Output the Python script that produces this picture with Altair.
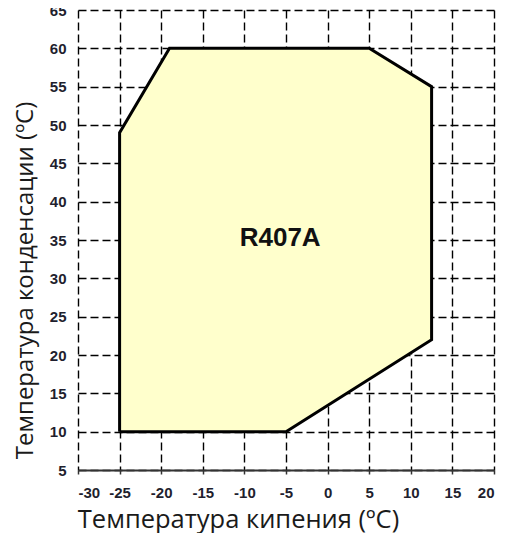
import altair as alt
import pandas as pd

# Envelope polygon (evaporating temp, condensing temp), closed
boil_temp = [-25, -25, -19, 5, 12.5, 12.5, -5, -25]
cond_temp = [10, 49, 60, 60, 55, 22, 10, 10]
point_order = list(range(len(boil_temp)))

x_ticks = list(range(-30, 21, 5))
y_ticks = list(range(5, 66, 5))

label_text = ["R407A"]
label_x = [-5.7]
label_y = [35.3]

df = pd.DataFrame({"x": boil_temp, "y": cond_temp, "o": point_order})
lab = pd.DataFrame({"x": label_x, "y": label_y, "t": label_text})

xscale = alt.Scale(domain=[-30, 20], nice=False, zero=False)
yscale = alt.Scale(domain=[5, 65], nice=False, zero=False)

label_color = "#1f1f2e"

xaxis = alt.Axis(
    values=x_ticks, title="Температура кипения (ºC)",
    labelExpr="datum.value + ''", labelOverlap=False,
    grid=True, gridColor="black", gridDash=[8, 4], gridWidth=1.4, gridOpacity=1,
    domain=True, domainColor="#333", domainWidth=2,
    ticks=True, tickColor="#333", tickSize=4, tickWidth=1.5,
    labelFont="Liberation Sans", labelFontSize=15, labelFontWeight="bold",
    labelColor=label_color, labelPadding=11,
    titleFont="Open Sans", titleFontSize=25.5, titleFontWeight="normal",
    titleColor="#1a1a1a", titleX=160, titleY=57, titleBaseline="alphabetic",
)
yaxis = alt.Axis(
    values=y_ticks, title="Температура конденсации  (ºC)",
    labelExpr="datum.value + ''", labelOverlap=False,
    grid=True, gridColor="black", gridDash=[8, 4], gridWidth=1.4, gridOpacity=1,
    domain=False, ticks=False,
    labelFont="Liberation Sans", labelFontSize=15, labelFontWeight="bold",
    labelColor=label_color, labelPadding=12,
    titleFont="Open Sans", titleFontSize=24, titleFontWeight="normal",
    titleColor="#1a1a1a", titleX=-46, titleY=270, titleBaseline="alphabetic",
)

x_enc = alt.X("x:Q", scale=xscale, axis=xaxis)
y_enc = alt.Y("y:Q", scale=yscale, axis=yaxis)

poly = alt.Chart(df).mark_line(
    fill="#FFFFCC", stroke="black", strokeWidth=3, strokeJoin="miter"
).encode(x=x_enc, y=y_enc, order=alt.Order("o:O"))

text = alt.Chart(lab).mark_text(
    font="Liberation Sans", fontSize=26, fontWeight="bold", color="#111"
).encode(x=x_enc, y=y_enc, text="t:N")

chart = alt.layer(poly, text).properties(
    width=416, height=460,
    autosize=alt.AutoSizeParams(type="none"),
    padding={"left": 70, "top": 2, "right": 8, "bottom": 63},
).configure_view(stroke=None)

chart.save("out.html", embed_options={"renderer": "svg", "actions": False})
